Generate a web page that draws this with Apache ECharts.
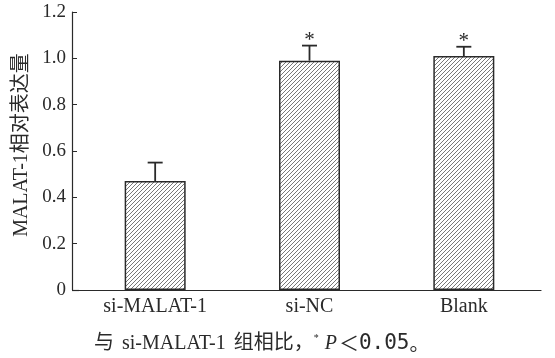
<!DOCTYPE html>
<html><head><meta charset="utf-8">
<script src="https://cdn.jsdelivr.net/npm/echarts@6/dist/echarts.min.js"></script>
<style>html,body{margin:0;padding:0;background:#fff}#c{width:555px;height:358px}</style>
</head><body><div id="c"></div>
<script>
var categories = ['si-MALAT-1', 'si-NC', 'Blank'];
var means = [0.47, 0.99, 1.01];
var errors = [0.08, 0.065, 0.04];
var marks = ['', '*', '*'];
var yTicks = [0, 0.2, 0.4, 0.6, 0.8, 1.0, 1.2];
var yName = 'MALAT-1相对表达量';

var FONT = '"Liberation Serif", "Noto Sans CJK SC", serif';
var INK = '#2a2a2a';

function hatch() {
  var c = document.createElement('canvas');
  c.width = 4; c.height = 4;
  var g = c.getContext('2d');
  g.fillStyle = '#fff'; g.fillRect(0, 0, 4, 4);
  g.strokeStyle = '#555'; g.lineWidth = 0.8;
  g.beginPath();
  g.moveTo(0, 4); g.lineTo(4, 0);
  g.moveTo(-1, 1); g.lineTo(1, -1);
  g.moveTo(3, 5); g.lineTo(5, 3);
  g.stroke();
  return c;
}

var chart = echarts.init(document.getElementById('c'));
chart.setOption({
  animation: false,
  backgroundColor: '#fff',
  grid: { left: 78, right: 14, top: 12, bottom: 68 },
  xAxis: {
    type: 'category', data: categories,
    axisLine: { lineStyle: { color: INK, width: 1.2 } },
    axisTick: { inside: true, length: 5, lineStyle: { color: INK } },
    axisLabel: { fontFamily: FONT, fontSize: 20, color: INK, margin: 7 }
  },
  yAxis: {
    type: 'value', min: yTicks[0], max: yTicks[yTicks.length - 1], interval: 0.2,
    offset: 6,
    splitLine: { show: false },
    axisLine: { show: true, lineStyle: { color: INK, width: 1.2 } },
    axisTick: { show: true, inside: true, length: 5, lineStyle: { color: INK } },
    axisLabel: { fontFamily: FONT, fontSize: 19, color: INK, margin: 6,
      formatter: function (v) { return v === 0 ? '0' : v.toFixed(1); } },
    name: yName, nameLocation: 'middle', nameGap: 39,
    nameTextStyle: { fontFamily: FONT, fontSize: 20, color: INK, padding: [0, 0, 0, 12] }
  },
  series: [{
    type: 'bar', data: means, barWidth: 61,
    itemStyle: { color: { image: hatch(), repeat: 'repeat' }, borderColor: INK, borderWidth: 1.5 }
  }, {
    type: 'custom',
    data: means.map(function (m, i) { return [i, m, errors[i]]; }),
    renderItem: function (params, api) {
      var i = api.value(0), m = api.value(1), e = api.value(2);
      var p0 = api.coord([i, m]);
      var p1 = api.coord([i, m + e]);
      var half = 7.5;
      var children = [
        { type: 'line', shape: { x1: p0[0], y1: p0[1], x2: p1[0], y2: p1[1] }, style: { stroke: INK, lineWidth: 1.8 } },
        { type: 'line', shape: { x1: p1[0] - half, y1: p1[1], x2: p1[0] + half, y2: p1[1] }, style: { stroke: INK, lineWidth: 1.8 } }
      ];
      if (marks[params.dataIndex]) {
        children.push({ type: 'text', x: p1[0], y: p1[1] - 5,
          style: { text: marks[params.dataIndex], fontFamily: FONT, fontSize: 21, fill: INK, align: 'center', verticalAlign: 'middle' } });
      }
      return { type: 'group', children: children };
    }
  }],
  graphic: [{
    type: 'text', left: 94, top: 333, z: 10,
    style: {
      text: '{a|与}{b|si-MALAT-1}{b|组相比，}{s|*}{p|P}{c|＜}{m|0.05}{c|。}',
      rich: {
        a: { fontFamily: FONT, fontSize: 20, fill: INK },
        b: { fontFamily: FONT, fontSize: 20, fill: INK, padding: [0, 0, 0, 8] },
        c: { fontFamily: '"Noto Sans CJK SC", sans-serif', fontSize: 20, fill: INK },
        m: { fontFamily: '"DejaVu Sans Mono", monospace', fontSize: 21, fill: INK },
        s: { fontFamily: FONT, fontSize: 10, fill: INK, verticalAlign: 'top', padding: [0, 0, 8, 0] },
        p: { fontFamily: FONT, fontSize: 20, fontStyle: 'italic', fill: INK, padding: [0, 2, 0, 6] }
      }
    }
  }, {
    type: 'line', shape: { x1: 72, y1: 290.5, x2: 79, y2: 290.5 }, style: { stroke: INK, lineWidth: 1.2 }
  }]
});
</script></body></html>
